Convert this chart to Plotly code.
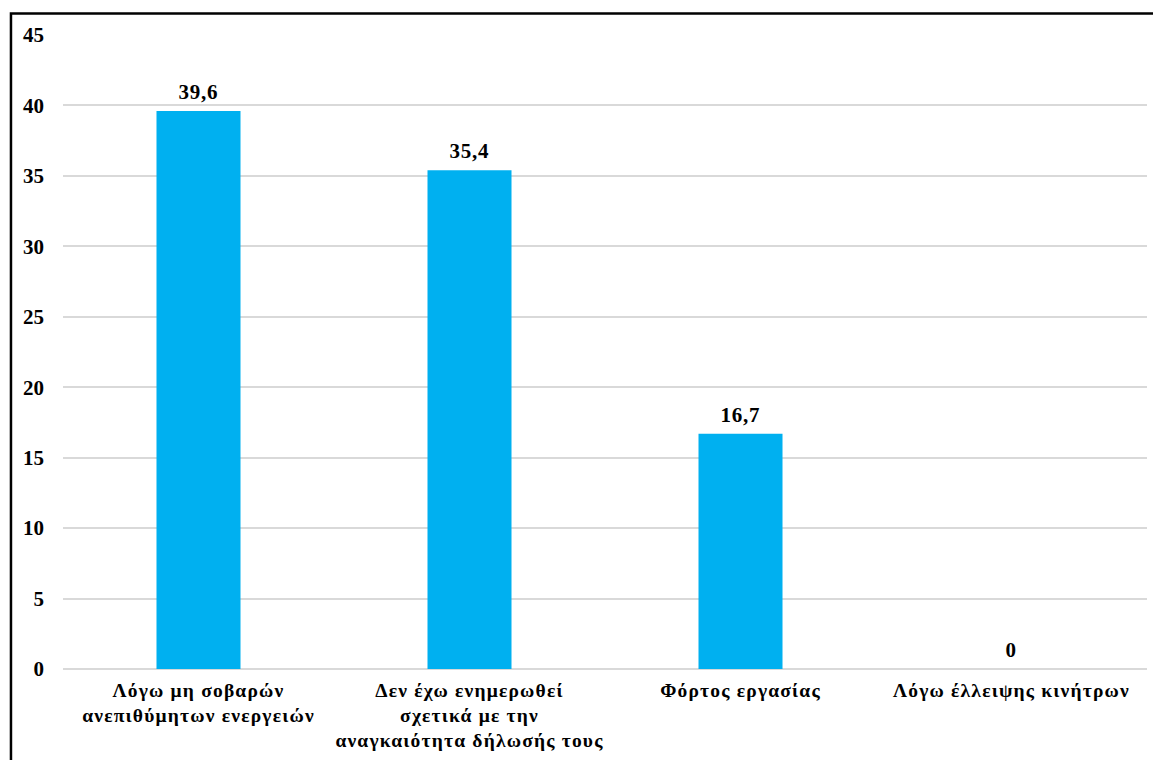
import plotly.graph_objects as go

categories = [
    "Λόγω μη σοβαρών<br>ανεπιθύμητων ενεργειών",
    "Δεν έχω ενημερωθεί<br>σχετικά με την<br>αναγκαιότητα δήλωσής τους",
    "Φόρτος εργασίας",
    "Λόγω έλλειψης κινήτρων",
]
values = [39.6, 35.4, 16.7, 0]
y_ticks = [0, 5, 10, 15, 20, 25, 30, 35, 40, 45]

FONT = "Liberation Serif, Times New Roman, serif"

fig = go.Figure(
    go.Bar(
        x=categories,
        y=values,
        marker=dict(color="#00B0F0", line=dict(width=0)),
        hoverinfo="x+y",
    )
)

# Value labels above each bar, with a decimal comma
for cat, val in zip(categories, values):
    fig.add_annotation(
        x=cat,
        y=val,
        text=f"{val:g}".replace(".", ","),
        showarrow=False,
        yanchor="bottom",
        yshift=5,
        font=dict(family=FONT, size=21, color="#000000", weight="bold"),
    )

fig.update_layout(
    width=1153,
    height=760,
    margin=dict(l=63, r=6, t=35, b=91),
    paper_bgcolor="white",
    plot_bgcolor="white",
    bargap=0.69,
    showlegend=False,
    font=dict(family=FONT, size=19, color="#000000", weight="bold"),
    xaxis=dict(
        showgrid=False,
        showline=False,
        ticks="",
        ticklabelstandoff=7,
        tickfont=dict(family=FONT, size=19.5, color="#000000", weight="bold"),
    ),
    yaxis=dict(
        range=[0, 45],
        tickvals=y_ticks,
        showgrid=True,
        gridcolor="#d9d9d9",
        gridwidth=1.5,
        zeroline=True,
        zerolinecolor="#d9d9d9",
        zerolinewidth=1.5,
        showline=False,
        ticks="",
        ticklabelstandoff=18,
        tickfont=dict(family=FONT, size=21, color="#000000", weight="bold"),
    ),
    shapes=[
        dict(
            type="rect",
            xref="paper",
            yref="paper",
            x0=-0.048,
            x1=1.2,
            y0=-0.3,
            y1=1.034,
            line=dict(color="#000000", width=2.5),
            fillcolor="rgba(0,0,0,0)",
            layer="above",
        )
    ],
)

# Slightly widen the tracking of the category and value labels
spacing_js = """
document.querySelectorAll('.xtick text').forEach(function (t) {
    t.style.letterSpacing = '1.2px';
});
document.querySelectorAll('.annotation-text').forEach(function (t) {
    t.style.letterSpacing = '0.8px';
});
"""

fig.write_html("out.html", post_script=spacing_js)
